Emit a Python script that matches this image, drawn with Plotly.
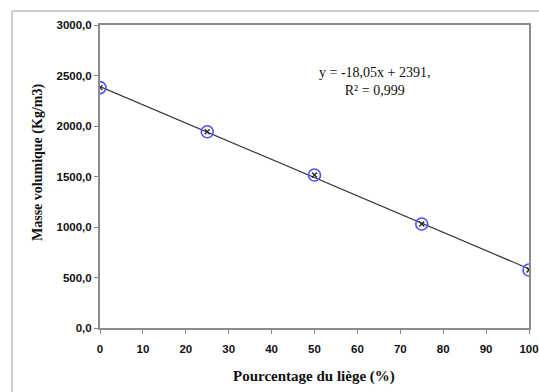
import plotly.graph_objects as go

# Data
liege_pct = [0, 25, 50, 75, 100]
masse_vol = [2380, 1943, 1515, 1030, 574]
slope = -18.05
intercept = 2391
fit_x = [0, 100]
fit_y = [intercept + slope * v for v in fit_x]
x_ticks = list(range(0, 101, 10))
y_ticks = [0, 500, 1000, 1500, 2000, 2500, 3000]
y_tick_labels = ["0,0", "500,0", "1000,0", "1500,0", "2000,0", "2500,0", "3000,0"]

fig = go.Figure()
fig.add_trace(go.Scatter(x=fit_x, y=fit_y, mode="lines",
                         line=dict(color="#333333", width=1.2), showlegend=False,
                         hoverinfo="skip"))
fig.add_trace(go.Scatter(x=liege_pct, y=masse_vol, mode="markers",
                         marker=dict(symbol="circle-open", size=12, color="#5050ff",
                                     line=dict(width=1.6, color="#5050ff")),
                         showlegend=False))
fig.add_trace(go.Scatter(x=liege_pct, y=masse_vol, mode="markers",
                         marker=dict(symbol="x-thin-open", size=5, color="#222222",
                                     line=dict(width=1.3, color="#222222")),
                         showlegend=False))

L, R, T, B = 100, 10, 25, 64
W, H = 539, 392
pw, ph = W - L - R, H - T - B

fig.add_annotation(x=64.0, y=2436, xref="x", yref="y",
                   text="y = -18,05x + 2391,<br>R² = 0,999", showarrow=False,
                   font=dict(family="Liberation Serif", size=14, color="#111111"),
                   align="center", xanchor="center", yanchor="middle")

# axis titles
fig.add_annotation(x=(314 - L) / pw, y=1 - (376 - T) / ph, xref="paper", yref="paper",
                   xanchor="center", yanchor="middle",
                   text="Pourcentage du liège (%)", showarrow=False,
                   font=dict(family="Liberation Serif", size=15, color="#111111", weight="bold"))
fig.add_annotation(x=(38 - L) / pw, y=1 - (163 - T) / ph, xref="paper", yref="paper",
                   xanchor="center", yanchor="middle",
                   text="Masse volumique (Kg/m3)", showarrow=False, textangle=-90,
                   font=dict(family="Liberation Serif", size=14, color="#111111", weight="bold"))

# outer chart frame
fx0 = (12 - L) / pw
fy1 = 1 + (T - 11) / ph
fig.add_shape(type="line", xref="paper", yref="paper", x0=fx0, x1=(W + 5 - L) / pw,
              y0=fy1, y1=fy1, line=dict(color="#cccccc", width=2))
fig.add_shape(type="line", xref="paper", yref="paper", x0=fx0, x1=fx0,
              y0=fy1, y1=-(B + 5) / ph, line=dict(color="#cccccc", width=2))

fig.update_layout(
    width=W, height=H,
    margin=dict(l=L, r=R, t=T, b=B, autoexpand=False),
    plot_bgcolor="white", paper_bgcolor="white",
    xaxis=dict(range=[0, 100], tickvals=x_ticks, ticks="outside", ticklen=4,
               tickcolor="#888888", showgrid=False, zeroline=False, ticklabelstandoff=5,
               showline=True, mirror=True, linecolor="#8c8c8c", linewidth=2,
               tickfont=dict(family="Liberation Sans", size=11.5, color="#111111", weight="bold")),
    yaxis=dict(range=[0, 3000], tickvals=y_ticks, ticktext=y_tick_labels,
               ticks="outside", ticklen=4, tickcolor="#888888",
               showgrid=False, zeroline=False,
               showline=True, mirror=True, linecolor="#8c8c8c", linewidth=2,
               tickfont=dict(family="Liberation Sans", size=11.5, color="#111111", weight="bold")),
)

fig.write_html("out.html")
